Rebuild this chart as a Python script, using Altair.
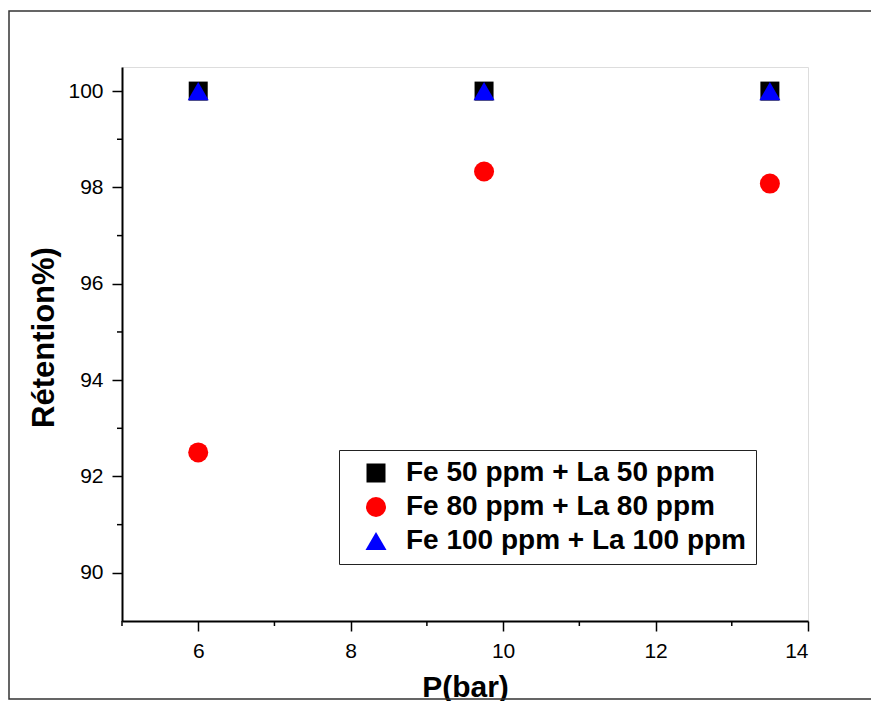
import altair as alt
import pandas as pd

series = ["Fe 50 ppm + La 50 ppm", "Fe 80 ppm + La 80 ppm", "Fe 100 ppm + La 100 ppm"]
pressure = [6, 9.75, 13.5]
ret_50 = [100, 100, 100]
ret_80 = [92.5, 98.33, 98.08]
ret_100 = [100, 100, 100]
colors = ["#000000", "#FF0000", "#0000FF"]
shapes = ["square", "circle", "triangle-up"]
sizes = [361, 441, 600]
x_major = [6, 8, 10, 12, 14]
x_minor = [5, 7, 9, 11, 13]
y_major = [90, 92, 94, 96, 98, 100]
y_minor = [91, 93, 95, 97, 99]

rows = []
for name, vals in zip(series, [ret_50, ret_80, ret_100]):
    for p, v in zip(pressure, vals):
        rows.append({"P": p, "R": v, "Serie": name})
df = pd.DataFrame(rows)

W, H = 686, 554
xscale = alt.Scale(domain=[5, 14], nice=False, zero=False)
yscale = alt.Scale(domain=[89, 100.5], nice=False, zero=False)

frame = alt.Chart(pd.DataFrame({"a": [0]})).mark_rect(
    fill="white", fillOpacity=0, stroke="#333333", strokeWidth=1.5
).encode(
    x=alt.value(-113), x2=alt.value(800), y=alt.value(-56), y2=alt.value(632)
)

points = alt.Chart(df).mark_point(filled=True, opacity=1).encode(
    x=alt.X("P:Q", scale=xscale, axis=alt.Axis(
        values=x_major, format="d", title="P(bar)", grid=False, tickSize=10, tickWidth=1.5,
        domainWidth=2, domainColor="black", tickColor="black",
        labelFont="Liberation Sans", labelFontSize=21, labelColor="black", labelPadding=9,
        titleFont="Liberation Sans", titleFontSize=30, titleFontWeight="bold", titleColor="black",
        titleX=343, titleY=75, titleBaseline="alphabetic", titleAlign="center")),
    y=alt.Y("R:Q", scale=yscale, axis=alt.Axis(
        values=y_major, format="d", title="Rétention%)", grid=False, tickSize=10, tickWidth=1.5,
        domainWidth=2, domainColor="black", tickColor="black",
        labelFont="Liberation Sans", labelFontSize=21, labelColor="black", labelPadding=9,
        titleFont="Liberation Sans", titleFontSize=31, titleFontWeight="bold", titleColor="black",
        titleX=-69, titleY=270, titleAngle=270, titleBaseline="alphabetic", titleAlign="center")),
    color=alt.Color("Serie:N", scale=alt.Scale(domain=series, range=colors), legend=alt.Legend(
        title=None, orient="none", legendX=217, legendY=383, padding=9, symbolOffset=14,
        symbolSize=400, labelFont="Liberation Sans", labelFontSize=28, labelFontWeight="bold",
        labelColor="black", labelOffset=16, rowPadding=6, strokeColor="#222222",
        fillColor="white", symbolStrokeWidth=0, labelLimit=500)),
    shape=alt.Shape("Serie:N", scale=alt.Scale(domain=series, range=shapes)),
    size=alt.Size("Serie:N", scale=alt.Scale(domain=series, range=sizes), legend=None),
)

xminor = alt.Chart(pd.DataFrame({"v": x_minor})).mark_rule(color="black", strokeWidth=1.5).encode(
    x=alt.X("v:Q", scale=xscale), y=alt.value(H), y2=alt.value(H + 5)
)
yminor = alt.Chart(pd.DataFrame({"v": y_minor})).mark_rule(color="black", strokeWidth=1.5).encode(
    y=alt.Y("v:Q", scale=yscale), x=alt.value(0), x2=alt.value(-5)
)

chart = alt.layer(frame, xminor, yminor, points).properties(
    width=W, height=H,
    autosize=alt.AutoSizeParams(type="none"),
    padding={"left": 114, "top": 59, "right": 63, "bottom": 80},
).configure_view(stroke="#666666", strokeWidth=1).configure(background="white")

chart.save("out.html", embed_options={"renderer": "svg", "actions": False})
